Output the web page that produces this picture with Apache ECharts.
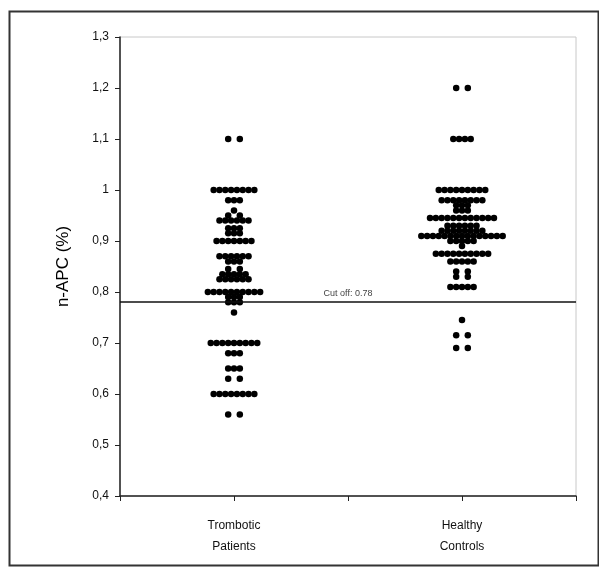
<!DOCTYPE html>
<html>
<head>
<meta charset="utf-8">
<script src="https://cdn.jsdelivr.net/npm/echarts@6/dist/echarts.min.js"></script>
<style>
html, body { margin: 0; padding: 0; background: #fff; }
#chart { width: 599px; height: 567px; }
</style>
</head>
<body>
<div id="chart"></div>
<script>
// groups: placed at 1 and 3 on a 0..4 value axis (ticks at every unit, like the original)
const categories = ['Trombotic\nPatients', 'Healthy\nControls'];
const categoryPos = [1, 3];

// n-APC level of each row of dots, and how many dots sit on that row
const tromboticLevels = [1.10, 1.00, 0.98, 0.96, 0.95, 0.94, 0.925, 0.915, 0.90, 0.87, 0.86, 0.845, 0.835, 0.825, 0.80, 0.79, 0.78, 0.76, 0.70, 0.68, 0.65, 0.63, 0.60, 0.56];
const tromboticCounts = [2, 8, 3, 1, 2, 6, 3, 3, 7, 6, 3, 2, 5, 6, 10, 3, 3, 1, 9, 3, 3, 2, 8, 2];
const healthyLevels = [1.20, 1.10, 1.00, 0.98, 0.97, 0.96, 0.945, 0.93, 0.92, 0.91, 0.90, 0.89, 0.875, 0.86, 0.84, 0.83, 0.81, 0.745, 0.715, 0.69];
const healthyCounts = [2, 4, 9, 8, 3, 3, 12, 6, 8, 15, 5, 1, 10, 5, 2, 2, 5, 1, 2, 2];

const cutOff = 0.78;

// horizontal spacing between neighbouring dots, in x-axis units (~6px)
const dotStep = 0.051;

function swarm(center, levels, counts) {
	const pts = [];
	levels.forEach(function (v, i) {
		const n = counts[i];
		for (let k = 0; k < n; k++) {
			// lone pairs are drawn a step apart on both sides of the centre
			const off = n === 2 ? (k === 0 ? -1 : 1) : k - (n - 1) / 2;
			pts.push([center + off * dotStep, v]);
		}
	});
	return pts;
}

const chart = echarts.init(document.getElementById('chart'));
const font = 'Liberation Sans, Arial, sans-serif';

const option = {
	animation: false,
	backgroundColor: '#fff',
	graphic: [{
		type: 'rect',
		left: 7,
		top: 9,
		shape: { width: 589, height: 554 },
		style: { fill: 'none', stroke: '#333', lineWidth: 2 }
	}],
	grid: {
		left: 120,
		right: 23,
		top: 37,
		bottom: 71,
		show: true,
		borderColor: '#c8c8c8',
		borderWidth: 1
	},
	xAxis: {
		type: 'value',
		min: 0,
		max: 4,
		interval: 1,
		splitLine: { show: false },
		axisLine: { onZero: false, lineStyle: { color: '#222', width: 1.5 } },
		axisTick: { show: true, length: 5, lineStyle: { color: '#222' } },
		axisLabel: {
			margin: 19,
			fontFamily: font,
			fontSize: 12,
			lineHeight: 21,
			color: '#111',
			formatter: function (v) {
				const i = categoryPos.indexOf(v);
				return i >= 0 ? categories[i] : '';
			}
		}
	},
	yAxis: {
		type: 'value',
		min: 0.4,
		max: 1.3,
		interval: 0.1,
		name: 'n-APC (%)',
		nameLocation: 'middle',
		nameGap: 48,
		nameTextStyle: { fontFamily: font, fontSize: 17, color: '#000' },
		splitLine: { show: false },
		axisLine: { onZero: false, lineStyle: { color: '#222', width: 1.5 } },
		axisTick: { show: true, length: 5, lineStyle: { color: '#222' } },
		axisLabel: {
			margin: 11,
			fontFamily: font,
			fontSize: 12,
			color: '#111',
			formatter: function (v) {
				return String(Math.round(v * 10) / 10).replace('.', ',');
			}
		}
	},
	series: [{
		name: 'Trombotic Patients',
		type: 'scatter',
		symbolSize: 6.5,
		itemStyle: { color: '#000', opacity: 1 },
		data: swarm(categoryPos[0], tromboticLevels, tromboticCounts),
		markLine: {
			silent: true,
			symbol: 'none',
			lineStyle: { color: '#111', width: 1.5, type: 'solid' },
			label: {
				position: 'insideMiddleTop',
				distance: 4,
				formatter: 'Cut off: 0.78',
				fontFamily: font,
				fontSize: 9,
				color: '#444'
			},
			data: [{ yAxis: cutOff }]
		}
	}, {
		name: 'Healthy Controls',
		type: 'scatter',
		symbolSize: 6.5,
		itemStyle: { color: '#000', opacity: 1 },
		data: swarm(categoryPos[1], healthyLevels, healthyCounts)
	}]
};
chart.setOption(option);

window.onresize = function () {
	chart.resize();
};
</script>
</body>
</html>
